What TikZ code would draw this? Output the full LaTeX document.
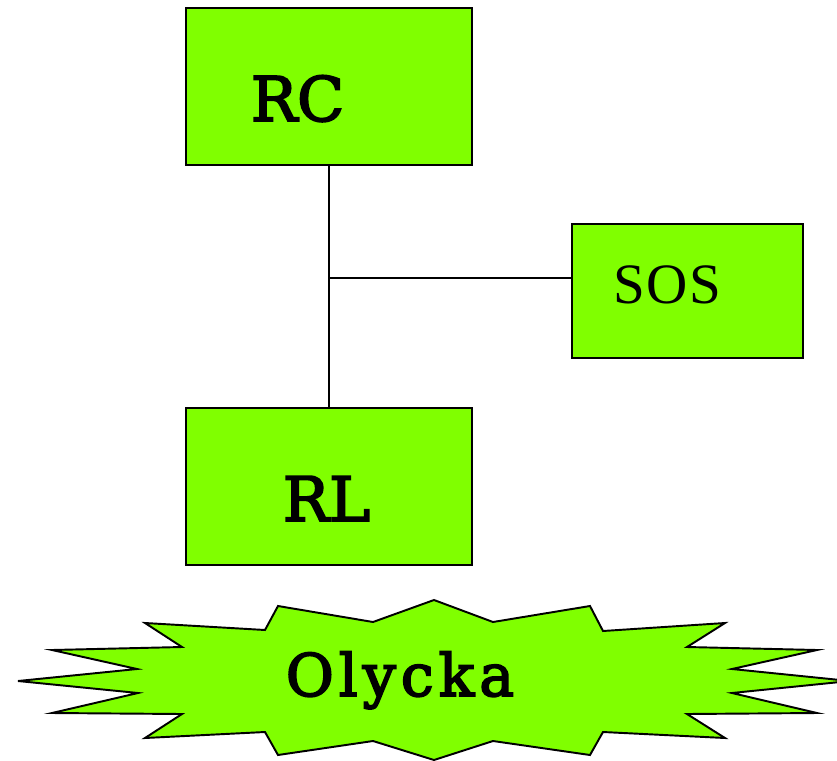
\documentclass[tikz,border=0pt]{standalone}
\usepackage{fontspec}
\setmainfont{DejaVu Serif}[FakeBold=3]
\newfontfamily\sosfont{Liberation Serif}[LetterSpace=3]
\newfontfamily\burstfont{DejaVu Serif}[FakeBold=3,LetterSpace=8.5]
\definecolor{limegreen}{rgb}{0.5,1,0}

\begin{document}
\begin{tikzpicture}[x=0.02cm,y=-0.02cm,
box/.style={draw,fill=limegreen,line width=1.1pt,
minimum width=5.72cm,minimum height=3.14cm,inner sep=0pt},
lbl/.style={anchor=base,inner sep=0pt,
font=\fontsize{35}{40}\selectfont}]
\useasboundingbox (0,0) rectangle (837,760);
\node[box] (rc) at (329,86.5) {};
\node[box,minimum width=4.62cm,minimum height=2.68cm]
(sos) at (687.5,291) {};
\node[box] (rl) at (329,486.5) {};
\node[lbl] (rctext) at (297.5,121) {RC};
\node[lbl,font=\sosfont\fontsize{32.5}{36}\selectfont]
(sostext) at (667.5,303) {SOS};
\node[lbl] (rltext) at (326.5,521) {RL};
\coordinate (tee) at (329,278);
\draw[line width=1.1pt] (rc.south) -- (rl.north);
\draw[line width=1.1pt] (tee) -- (tee -| sos.west);
% starburst
\filldraw[fill=limegreen,line width=1.1pt]
(434,600) -- (493,622) -- (590,606) -- (603,631)
-- (725,623) -- (687,647) -- (817,650) -- (732,669)
-- (850,681) -- (732,693) -- (817,713) -- (687,714)
-- (725,738) -- (603,732) -- (590,755) -- (493,741)
-- (434,760) -- (373,741) -- (278,755) -- (265,732)
-- (145,738) -- (182,714) -- (52,713) -- (138,693)
-- (18,681) -- (137,669) -- (52,650) -- (182,647)
-- (145,623) -- (265,630) -- (278,606) -- (373,622)
-- cycle;
\node[lbl,font=\burstfont\fontsize{33.4}{38}\selectfont]
(olycka) at (400,696) {Olycka};
\end{tikzpicture}
\end{document}
